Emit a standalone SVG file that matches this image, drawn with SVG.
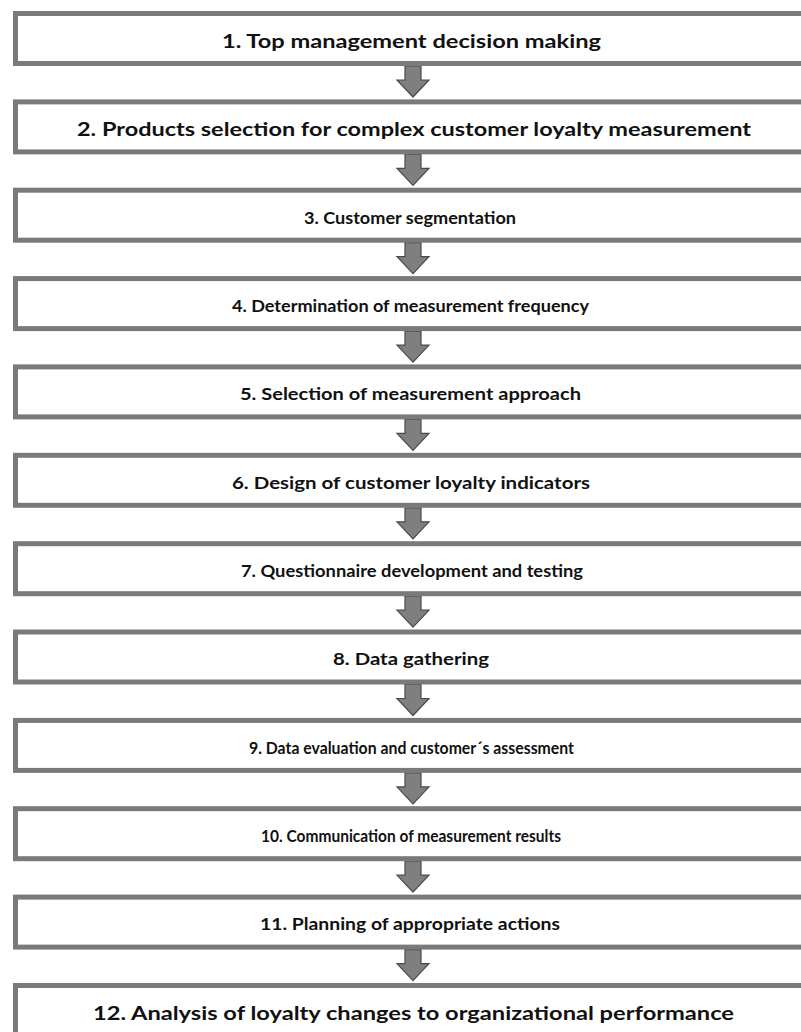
<svg xmlns="http://www.w3.org/2000/svg" width="801" height="1032" viewBox="0 0 801 1032">
<style>
.box{fill:#fff;stroke:#7a7a7a;stroke-width:5}
.t{font-family:Lato,"Open Sans","Liberation Sans",sans-serif;font-weight:bold;font-size:17px;fill:#111}
.big{font-size:19.5px}
.arr{fill:#7f7f7f;stroke:#4a4a4a;stroke-width:1.2;stroke-linejoin:miter}
</style>
<defs>
<path id="ar" class="arr" d="M405,0 H421 V14 H429 L413,31 L397,14 H405 Z"/>
</defs>
<g id="connectors">
<use href="#ar" y="66"/>
<use href="#ar" y="154.4"/>
<use href="#ar" y="242.7"/>
<use href="#ar" y="331.1"/>
<use href="#ar" y="419.4"/>
<use href="#ar" y="507.8"/>
<use href="#ar" y="596.2"/>
<use href="#ar" y="684.5"/>
<use href="#ar" y="772.9"/>
<use href="#ar" y="861.2"/>
<use href="#ar" y="949.6"/>
</g>
<g id="n1"><rect class="box" x="15.5" y="13.5" width="800" height="50"/><text class="t big" x="411.5" y="47.5" text-anchor="middle" textLength="379" lengthAdjust="spacingAndGlyphs">1. Top management decision making</text></g>
<g id="n2"><rect class="box" x="15.5" y="101.9" width="800" height="50"/><text class="t big" x="414" y="135.9" text-anchor="middle" textLength="674" lengthAdjust="spacingAndGlyphs">2. Products selection for complex customer loyalty measurement</text></g>
<g id="n3"><rect class="box" x="15.5" y="190.2" width="800" height="50"/><text class="t" x="410" y="223.5" text-anchor="middle" textLength="212" lengthAdjust="spacingAndGlyphs">3. Customer segmentation</text></g>
<g id="n4"><rect class="box" x="15.5" y="278.6" width="800" height="50"/><text class="t" x="410.5" y="311.9" text-anchor="middle" textLength="357" lengthAdjust="spacingAndGlyphs">4. Determination of measurement frequency</text></g>
<g id="n5"><rect class="box" x="15.5" y="366.9" width="800" height="50"/><text class="t" x="410.5" y="400.2" text-anchor="middle" textLength="341" lengthAdjust="spacingAndGlyphs">5. Selection of measurement approach</text></g>
<g id="n6"><rect class="box" x="15.5" y="455.3" width="800" height="50"/><text class="t" x="411" y="488.6" text-anchor="middle" textLength="358" lengthAdjust="spacingAndGlyphs">6. Design of customer loyalty indicators</text></g>
<g id="n7"><rect class="box" x="15.5" y="543.7" width="800" height="50"/><text class="t" x="412" y="577" text-anchor="middle" textLength="342" lengthAdjust="spacingAndGlyphs">7. Questionnaire development and testing</text></g>
<g id="n8"><rect class="box" x="15.5" y="632" width="800" height="50"/><text class="t" x="411" y="665.3" text-anchor="middle" textLength="156" lengthAdjust="spacingAndGlyphs">8. Data gathering</text></g>
<g id="n9"><rect class="box" x="15.5" y="720.4" width="800" height="50"/><text class="t" x="411.5" y="753.7" text-anchor="middle" textLength="325" lengthAdjust="spacingAndGlyphs">9. Data evaluation and customer´s assessment</text></g>
<g id="n10"><rect class="box" x="15.5" y="808.7" width="800" height="50"/><text class="t" x="411" y="842" text-anchor="middle" textLength="300" lengthAdjust="spacingAndGlyphs">10. Communication of measurement results</text></g>
<g id="n11"><rect class="box" x="15.5" y="897.1" width="800" height="50"/><text class="t" x="410" y="930.4" text-anchor="middle" textLength="300" lengthAdjust="spacingAndGlyphs">11. Planning of appropriate actions</text></g>
<g id="n12"><rect class="box" x="15.5" y="985.5" width="800" height="50"/><text class="t big" x="413.5" y="1019.5" text-anchor="middle" textLength="641" lengthAdjust="spacingAndGlyphs">12. Analysis of loyalty changes to organizational performance</text></g>
</svg>
